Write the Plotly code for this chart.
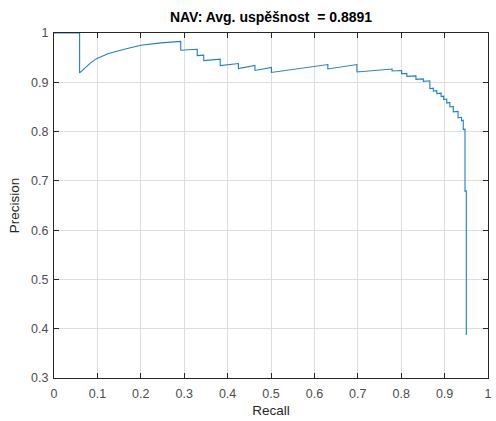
import plotly.graph_objects as go

recall = [0.0, 0.059, 0.059, 0.071, 0.085, 0.098, 0.124, 0.162, 0.200, 0.246, 0.292,
          0.292, 0.330, 0.330, 0.345, 0.345, 0.383, 0.383, 0.425, 0.425, 0.463, 0.463,
          0.501, 0.501, 0.631, 0.631, 0.698, 0.698, 0.779, 0.779, 0.801, 0.801, 0.813,
          0.813, 0.834, 0.834, 0.851, 0.851, 0.866, 0.866, 0.874, 0.874, 0.882, 0.882,
          0.892, 0.892, 0.898, 0.898, 0.905, 0.905, 0.912, 0.912, 0.920, 0.920, 0.931,
          0.931, 0.939, 0.939, 0.943, 0.943, 0.947, 0.947, 0.950, 0.950]
precision = [1.0, 1.0, 0.919, 0.929, 0.940, 0.948, 0.958, 0.967, 0.975, 0.980, 0.983,
             0.965, 0.967, 0.954, 0.955, 0.944, 0.947, 0.934, 0.938, 0.928, 0.934, 0.924,
             0.930, 0.920, 0.936, 0.927, 0.936, 0.921, 0.927, 0.923, 0.924, 0.917, 0.918,
             0.912, 0.913, 0.906, 0.907, 0.902, 0.903, 0.887, 0.888, 0.882, 0.883, 0.877,
             0.878, 0.871, 0.872, 0.865, 0.866, 0.858, 0.859, 0.850, 0.851, 0.840, 0.841,
             0.828, 0.829, 0.822, 0.823, 0.804, 0.805, 0.679, 0.680, 0.387]

x_ticks = [0, 0.1, 0.2, 0.3, 0.4, 0.5, 0.6, 0.7, 0.8, 0.9, 1]
x_labels = ["0", "0.1", "0.2", "0.3", "0.4", "0.5", "0.6", "0.7", "0.8", "0.9", "1"]
y_ticks = [0.3, 0.4, 0.5, 0.6, 0.7, 0.8, 0.9, 1]
y_labels = ["0.3", "0.4", "0.5", "0.6", "0.7", "0.8", "0.9", "1"]

fig = go.Figure()
fig.add_trace(go.Scatter(x=recall, y=precision, mode="lines",
                         line=dict(color="#1f7fc6", width=1.1), showlegend=False))

axis_common = dict(
    showline=True, linecolor="#262626", linewidth=1, mirror="ticks",
    ticks="inside", ticklen=5, tickcolor="#262626", tickwidth=1,
    showgrid=True, gridcolor="#dedede", gridwidth=1, zeroline=False,
    tickfont=dict(family="Liberation Sans, Arial, sans-serif", size=12.5, color="#4d4d4d"),
)

fig.update_layout(
    width=496, height=421,
    margin=dict(l=54, r=4, t=33, b=43),
    paper_bgcolor="white", plot_bgcolor="white",
    font=dict(family="Liberation Sans, Arial, sans-serif", color="#262626"),
    title=dict(text="<b>NAV: Avg. uspěšnost  = 0.8891</b>", x=0.5, xref="paper",
               y=1, yref="container", yanchor="top", pad=dict(t=12),
               font=dict(size=14, color="#000000")),
    xaxis=dict(range=[0, 1], tickvals=x_ticks, ticktext=x_labels, ticklabelstandoff=4,
               title=dict(text="Recall", font=dict(size=13.5, color="#262626"), standoff=5),
               **axis_common),
    yaxis=dict(range=[0.3, 1], tickvals=y_ticks, ticktext=y_labels, ticklabelstandoff=2,
               title=dict(text="Precision", font=dict(size=13.5, color="#262626"), standoff=8),
               **axis_common),
)

fig.write_html("out.html")
